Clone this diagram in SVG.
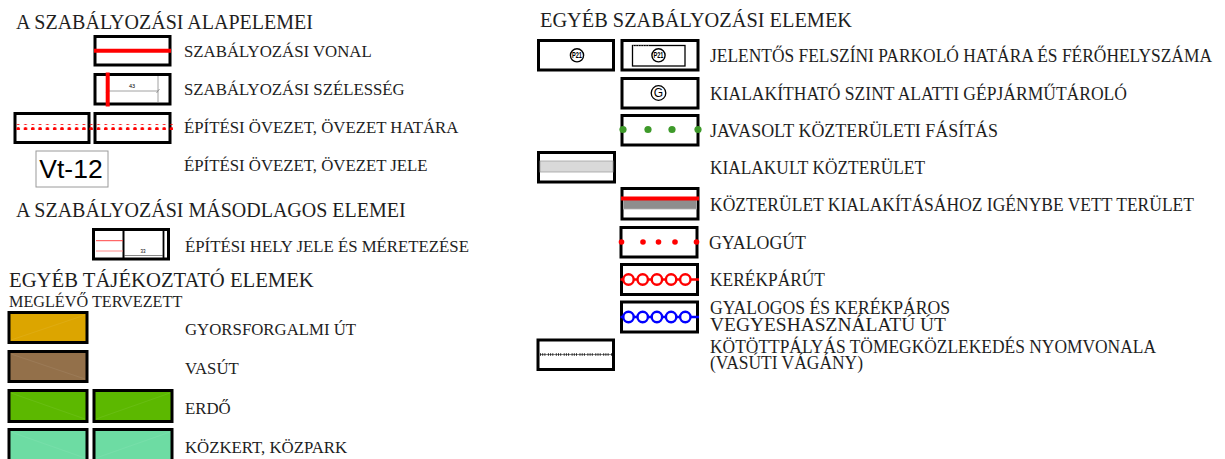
<svg xmlns="http://www.w3.org/2000/svg" width="1225" height="459" viewBox="0 0 1225 459">
  <style>
    .box { fill: #ffffff; stroke: #000000; stroke-width: 3; }
    .ttl { font-family: "Liberation Serif", "Times New Roman", serif; font-size: 20px; fill: #1e1e1e; }
    .lbl { font-family: "Liberation Serif", "Times New Roman", serif; font-size: 16.8px; fill: #1e1e1e; }
    .rlbl { font-family: "Liberation Serif", "Times New Roman", serif; font-size: 19.5px; fill: #1e1e1e; }
    .rlbl2 { font-family: "Liberation Serif", "Times New Roman", serif; font-size: 18.3px; fill: #1e1e1e; }
    .sans { font-family: "Liberation Sans", Arial, sans-serif; fill: #000000; }
    .hair { stroke: #8a8a8a; stroke-width: 0.8; fill: none; }
    .diag { stroke: #ffffff; stroke-opacity: 0.07; stroke-width: 1; }
  </style>
  <defs>
    <!-- red dotted boundary line -->
    <pattern id="reddots" x="0" y="0" width="7.3" height="6" patternUnits="userSpaceOnUse">
      <circle cx="3.6" cy="3" r="1.9" fill="#ff0000"/>
    </pattern>
  </defs>

  <rect width="1225" height="459" fill="#ffffff"/>

  <!-- ===== left column headings ===== -->
  <text class="ttl" x="16" y="29">A SZABÁLYOZÁSI ALAPELEMEI</text>
  <text class="ttl" x="16" y="217">A SZABÁLYOZÁSI MÁSODLAGOS ELEMEI</text>
  <text class="ttl" x="9" y="287" style="font-size:20.7px">EGYÉB TÁJÉKOZTATÓ ELEMEK</text>
  <text class="lbl" x="9" y="307" style="font-size:16.2px">MEGLÉVŐ TERVEZETT</text>

  <!-- regulation line -->
  <g id="szabalyozasi-vonal">
    <rect class="box" x="95" y="36.5" width="75" height="28.5"/>
    <line x1="94" y1="50.7" x2="171" y2="50.7" stroke="#ff0000" stroke-width="4"/>
    <text class="lbl" x="184" y="57.3">SZABÁLYOZÁSI VONAL</text>
  </g>

  <!-- regulation width -->
  <g id="szabalyozasi-szelesseg">
    <rect class="box" x="95" y="74.5" width="75" height="29.5"/>
    <line class="hair" x1="107.5" y1="91" x2="158" y2="91"/>
    <line class="hair" x1="158" y1="76" x2="158" y2="102.5"/>
    <line class="hair" x1="106" y1="93" x2="109" y2="89"/>
    <line class="hair" x1="156.5" y1="93" x2="159.5" y2="89"/>
    <text class="sans" x="132" y="88" font-size="5.5" text-anchor="middle" fill="#444">43</text>
    <line x1="107.7" y1="72.5" x2="107.7" y2="106.5" stroke="#ff0000" stroke-width="4"/>
    <text class="lbl" x="184" y="95">SZABÁLYOZÁSI SZÉLESSÉG</text>
  </g>

  <!-- zone boundary -->
  <g id="epitesi-ovezet-hatara">
    <rect class="box" x="15" y="113.5" width="74" height="29"/>
    <rect class="box" x="95" y="113.5" width="75" height="29"/>
    <rect x="13" y="124" width="160" height="6" fill="url(#reddots)"/>
    <text class="lbl" x="184" y="132.7">ÉPÍTÉSI ÖVEZET, ÖVEZET HATÁRA</text>
  </g>

  <!-- zone code -->
  <g id="epitesi-ovezet-jele">
    <rect x="36" y="151" width="72" height="36" fill="#ffffff" stroke="#9a9a9a" stroke-width="1"/>
    <text class="sans" x="71" y="177.5" font-size="26.5" text-anchor="middle">Vt-12</text>
    <text class="lbl" x="184" y="170.7">ÉPÍTÉSI ÖVEZET, ÖVEZET JELE</text>
  </g>

  <!-- building envelope -->
  <g id="epitesi-hely">
    <rect class="box" x="93.5" y="229.5" width="75" height="29.5"/>
    <line x1="123.5" y1="230" x2="123.5" y2="258" stroke="#000" stroke-width="2"/>
    <line x1="163.5" y1="230" x2="163.5" y2="258" stroke="#000" stroke-width="1.8"/>
    <line x1="96" y1="240.7" x2="123" y2="240.7" stroke="#ff3030" stroke-width="0.9"/>
    <line x1="96" y1="251" x2="123" y2="251" stroke="#ff8080" stroke-width="0.9"/>
    <line x1="124" y1="255.5" x2="163" y2="255.5" stroke="#555" stroke-width="0.7"/>
    <text class="sans" x="143" y="253" font-size="4.5" text-anchor="middle" fill="#555">33</text>
    <text class="lbl" x="185" y="251.7">ÉPÍTÉSI HELY JELE ÉS MÉRETEZÉSE</text>
  </g>

  <!-- expressway -->
  <g id="gyorsforgalmi-ut">
    <rect class="box" x="9" y="312.5" width="78" height="30" style="fill:#dca500"/>
    <line class="diag" x1="11" y1="340" x2="85" y2="315"/>
    <text class="lbl" x="185" y="335">GYORSFORGALMI ÚT</text>
  </g>

  <!-- railway -->
  <g id="vasut">
    <rect class="box" x="9" y="351.5" width="78" height="30" style="fill:#93704a"/>
    <line class="diag" x1="11" y1="354" x2="85" y2="379"/>
    <text class="lbl" x="185" y="374.3">VASÚT</text>
  </g>

  <!-- forest -->
  <g id="erdo">
    <rect class="box" x="9" y="390.5" width="78" height="31" style="fill:#5cb800"/>
    <rect class="box" x="94" y="390.5" width="78" height="31" style="fill:#5cb800"/>
    <line class="diag" x1="11" y1="393" x2="85" y2="419"/>
    <line class="diag" x1="96" y1="419" x2="170" y2="393"/>
    <text class="lbl" x="185" y="414.3">ERDŐ</text>
  </g>

  <!-- public park -->
  <g id="kozkert">
    <rect class="box" x="9" y="429.5" width="78" height="32" style="fill:#6ddca3"/>
    <rect class="box" x="94" y="429.5" width="78" height="32" style="fill:#6ddca3"/>
    <line class="diag" x1="11" y1="432" x2="85" y2="458"/>
    <line class="diag" x1="96" y1="458" x2="170" y2="432"/>
    <text class="lbl" x="185" y="453.3">KÖZKERT, KÖZPARK</text>
  </g>

  <!-- ===== right column ===== -->
  <text class="rlbl" x="540" y="27" textLength="312" lengthAdjust="spacingAndGlyphs" style="font-size:21px">EGYÉB SZABÁLYOZÁSI ELEMEK</text>

  <!-- surface parking -->
  <g id="parkolo">
    <rect class="box" x="538.5" y="40.5" width="75" height="29.5"/>
    <circle cx="577" cy="55.3" r="6.6" fill="#fff" stroke="#000" stroke-width="1.4"/>
    <text class="sans" x="572" y="58.3" font-size="8.5" font-weight="bold" textLength="10" lengthAdjust="spacingAndGlyphs">P21</text>
    <rect class="box" x="622" y="40.5" width="76" height="29.5"/>
    <rect x="632.5" y="45.5" width="52.5" height="20.5" fill="none" stroke="#000" stroke-width="1.3"/>
    <line x1="633" y1="46" x2="650" y2="46" stroke="#fff" stroke-width="0.8" stroke-dasharray="1 1.5"/>
    <circle cx="658.5" cy="55.3" r="6.6" fill="#fff" stroke="#000" stroke-width="1.4"/>
    <text class="sans" x="653.5" y="58.3" font-size="8.5" font-weight="bold" textLength="10" lengthAdjust="spacingAndGlyphs">P21</text>
    <text class="rlbl" x="710" y="62" textLength="502" lengthAdjust="spacingAndGlyphs">JELENTŐS FELSZÍNI PARKOLÓ HATÁRA ÉS FÉRŐHELYSZÁMA</text>
  </g>

  <!-- underground garage -->
  <g id="gepjarmutarolo">
    <rect class="box" x="622" y="78.5" width="76" height="29.5"/>
    <circle cx="658.5" cy="93" r="7.3" fill="#fff" stroke="#000" stroke-width="1.3"/>
    <text class="sans" x="658.5" y="97.3" font-size="12" text-anchor="middle">G</text>
    <text class="rlbl" x="710" y="100" textLength="417" lengthAdjust="spacingAndGlyphs">KIALAKÍTHATÓ SZINT ALATTI GÉPJÁRMŰTÁROLÓ</text>
  </g>

  <!-- proposed street trees -->
  <g id="fasitas">
    <rect class="box" x="622" y="115.5" width="76" height="29.5"/>
    <g fill="#3e9a2a">
      <circle cx="623" cy="129.5" r="3.6"/>
      <circle cx="648" cy="129.5" r="3.6"/>
      <circle cx="672" cy="129.5" r="3.6"/>
      <circle cx="698" cy="129.5" r="3.6"/>
    </g>
    <text class="rlbl" x="710" y="137" textLength="288" lengthAdjust="spacingAndGlyphs">JAVASOLT KÖZTERÜLETI FÁSÍTÁS</text>
  </g>

  <!-- existing public space -->
  <g id="kialakult-kozterulet">
    <rect class="box" x="538.5" y="152.5" width="76" height="29.5"/>
    <rect x="540" y="161" width="73" height="11" fill="#d9d9d9" stroke="#a0a0a0" stroke-width="0.8"/>
    <text class="rlbl" x="710" y="174" textLength="215" lengthAdjust="spacingAndGlyphs">KIALAKULT KÖZTERÜLET</text>
  </g>

  <!-- land taken for public space -->
  <g id="igenybe-vett-terulet">
    <rect class="box" x="622" y="188.5" width="76" height="30.5"/>
    <rect x="623.5" y="199.5" width="73" height="9.5" fill="#8e8e8e" stroke="#b0b0b0" stroke-width="0.8"/>
    <line x1="621" y1="198.5" x2="699" y2="198.5" stroke="#ff0000" stroke-width="3.8"/>
    <text class="rlbl" x="710" y="211" textLength="484" lengthAdjust="spacingAndGlyphs">KÖZTERÜLET KIALAKÍTÁSÁHOZ IGÉNYBE VETT TERÜLET</text>
  </g>

  <!-- footpath -->
  <g id="gyalogut">
    <rect class="box" x="621" y="227.5" width="76" height="29.5"/>
    <g fill="#ff0000">
      <circle cx="621.5" cy="242" r="2.8"/>
      <circle cx="643" cy="242" r="2.8"/>
      <circle cx="658.5" cy="242" r="2.8"/>
      <circle cx="675" cy="242" r="2.8"/>
      <circle cx="696.5" cy="242" r="2.8"/>
    </g>
    <text class="rlbl" x="709" y="249" textLength="97" lengthAdjust="spacingAndGlyphs">GYALOGÚT</text>
  </g>

  <!-- cycle path -->
  <g id="kerekparut">
    <rect class="box" x="621.5" y="264.5" width="76" height="30"/>
    <line x1="620.5" y1="279.5" x2="699" y2="279.5" stroke="#ff0000" stroke-width="2.4"/>
    <g fill="#ffffff" stroke="#ff0000" stroke-width="2.4">
      <circle cx="628.5" cy="279.5" r="5.2"/>
      <circle cx="642.7" cy="279.5" r="5.2"/>
      <circle cx="656.9" cy="279.5" r="5.2"/>
      <circle cx="671.1" cy="279.5" r="5.2"/>
      <circle cx="685.3" cy="279.5" r="5.2"/>
    </g>
    <text class="rlbl" x="710" y="286" textLength="115" lengthAdjust="spacingAndGlyphs">KERÉKPÁRÚT</text>
  </g>

  <!-- shared foot and cycle path -->
  <g id="vegyeshasznalatu-ut">
    <rect class="box" x="621.5" y="302" width="76" height="30"/>
    <line x1="620.5" y1="317" x2="699" y2="317" stroke="#0000ff" stroke-width="2.4"/>
    <g fill="#ffffff" stroke="#0000ff" stroke-width="2.4">
      <circle cx="628.5" cy="317" r="5.2"/>
      <circle cx="642.7" cy="317" r="5.2"/>
      <circle cx="656.9" cy="317" r="5.2"/>
      <circle cx="671.1" cy="317" r="5.2"/>
      <circle cx="685.3" cy="317" r="5.2"/>
    </g>
    <text class="rlbl2" x="710" y="313.5" textLength="240" lengthAdjust="spacingAndGlyphs">GYALOGOS ÉS KERÉKPÁROS</text>
    <text class="rlbl2" x="710" y="331" textLength="236" lengthAdjust="spacingAndGlyphs">VEGYESHASZNÁLATÚ ÚT</text>
  </g>

  <!-- rail track -->
  <g id="kotottpalyas">
    <rect class="box" x="538" y="340" width="75.5" height="29.5"/>
    <line x1="540" y1="354.5" x2="612" y2="354.5" stroke="#666" stroke-width="0.8"/>
    <line x1="540" y1="354.5" x2="612" y2="354.5" stroke="#222" stroke-width="2.6" stroke-dasharray="1 1.2 1 1.2 1 2.5"/>
    <text class="rlbl2" x="710" y="352.5" textLength="446" lengthAdjust="spacingAndGlyphs">KÖTÖTTPÁLYÁS TÖMEGKÖZLEKEDÉS NYOMVONALA</text>
    <text class="rlbl2" x="710" y="369" textLength="153" lengthAdjust="spacingAndGlyphs">(VASÚTI VÁGÁNY)</text>
  </g>
</svg>
